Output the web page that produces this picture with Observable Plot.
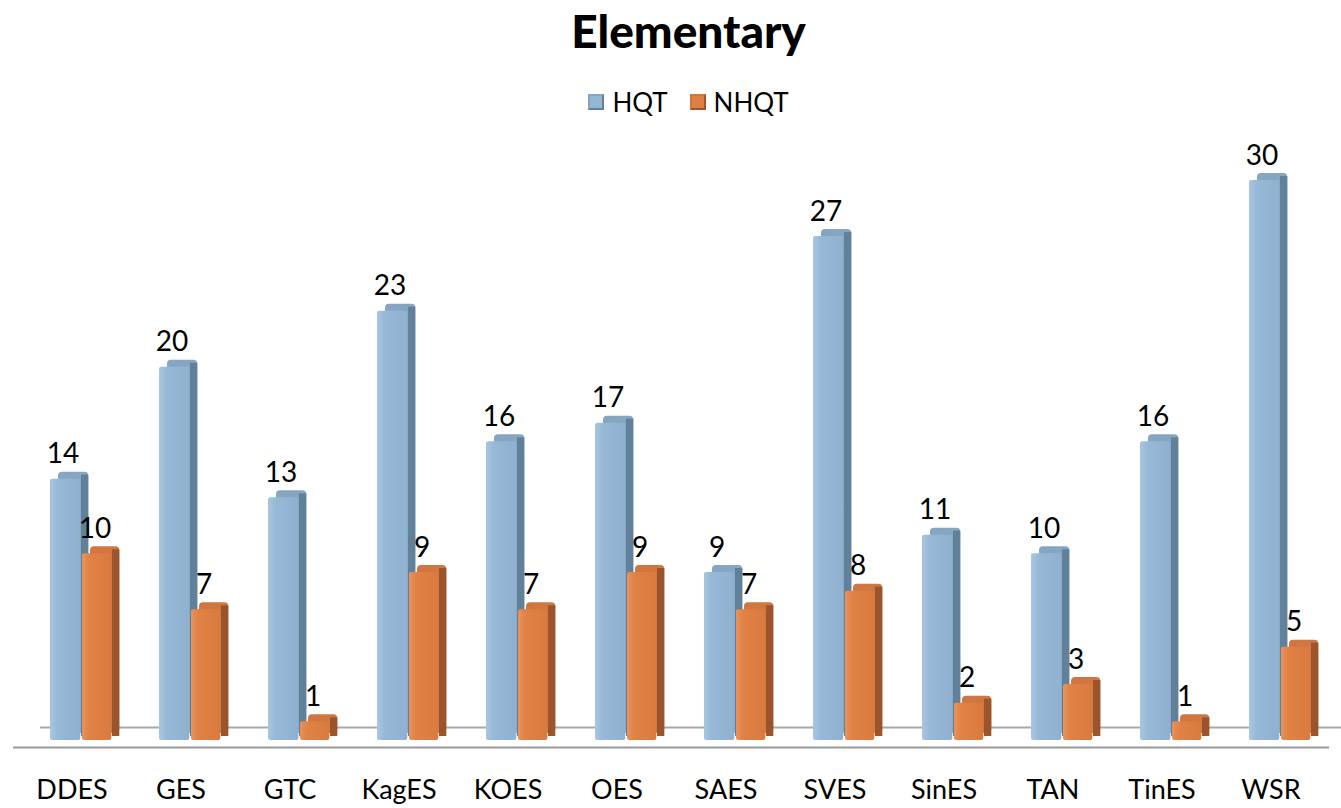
<!DOCTYPE html>
<html><head><meta charset="utf-8">
<script src="https://cdn.jsdelivr.net/npm/d3@7"></script>
<script src="https://cdn.jsdelivr.net/npm/@observablehq/plot@0.6"></script>
<style>
body{margin:0;background:#fff;font-family:Lato,"Open Sans",sans-serif;width:1341px;overflow:hidden}
#title{height:62px;line-height:62px;text-align:center;font-weight:900;font-size:46px;padding-left:36px;color:#000}
#legend{height:40px;margin-top:20px;display:flex;justify-content:center;align-items:center;gap:22px;padding-left:36px;font-size:26px;color:#000}
.item{display:flex;align-items:center;gap:8px}
.sw{width:16px;height:16px;box-sizing:border-box}
#chart svg{display:block}
</style></head><body>
<svg width="0" height="0" style="position:absolute">
<defs>
<linearGradient id="gBlue" x1="0" x2="1" y1="0" y2="0">
<stop offset="0" stop-color="#a9c6e0"/><stop offset="0.25" stop-color="#97b9d7"/><stop offset="1" stop-color="#8fb1cf"/>
</linearGradient>
<linearGradient id="gOrange" x1="0" x2="1" y1="0" y2="0">
<stop offset="0" stop-color="#e8935b"/><stop offset="0.25" stop-color="#e08145"/><stop offset="1" stop-color="#d97a3f"/>
</linearGradient>
<linearGradient id="gFloor" x1="0" x2="0" y1="0" y2="1">
<stop offset="0" stop-color="#e6e6e6"/><stop offset="0.5" stop-color="#fafafa"/><stop offset="1" stop-color="#ffffff"/>
</linearGradient>
</defs></svg>
<div id="title">Elementary</div>
<div id="legend"></div>
<div id="chart"></div>
<script>
const categories = ["DDES","GES","GTC","KagES","KOES","OES","SAES","SVES","SinES","TAN","TinES","WSR"];
const hqt  = [14,20,13,23,16,17,9,27,11,10,16,30];
const nhqt = [10,7,1,9,7,9,7,8,2,3,1,5];
const seriesNames = ["HQT","NHQT"];

const data = categories.flatMap((c,i)=>[
  {cat:c, series:"HQT", value:hqt[i]},
  {cat:c, series:"NHQT", value:nhqt[i]}
]);

const styles = {
  HQT:  {front:"url(#gBlue)", swatch:"#94b6d2", side:"#61809a", top:"#86a5c1", inL:33, inR:45.7, sideL:64, sideR:37.7, labDx:-9},
  NHQT: {front:"url(#gOrange)", swatch:"#dd8047", side:"#9b552c", top:"#d07642", inL:65, inR:14.7, sideL:95, sideR:6.7, labDx:23}
};

// legend
const leg = document.getElementById("legend");
seriesNames.forEach(s=>{
  const it = document.createElement("div"); it.className="item";
  const sw = document.createElement("div"); sw.className="sw";
  sw.style.background = styles[s].swatch;
  sw.style.border = "2px solid " + styles[s].side;
  sw.style.borderLeftColor = styles[s].top;
  sw.style.borderTopColor = styles[s].top;
  const tx = document.createElement("span"); tx.textContent = s;
  it.appendChild(sw); it.appendChild(tx); leg.appendChild(it);
});

const marks = [
  // floor
  Plot.ruleY([0], {dy:-4, dx:13, strokeWidth:19, stroke:"url(#gFloor)"}),
  Plot.ruleY([0], {dy:7, stroke:"#9a9a9a", strokeWidth:2}),
  Plot.ruleY([0], {dy:-13, dx:27, stroke:"#a8a8a8", strokeWidth:2}),
];
for (const s of seriesNames) {
  const st = styles[s];
  const d = data.filter(r=>r.series===s);
  marks.push(
    Plot.barY(d, {x:"cat", y:"value", insetLeft:st.inL, insetRight:st.inR, dx:8, dy:-7, fill:st.top, rx:4}),
    Plot.barY(d, {x:"cat", y:"value", insetLeft:st.sideL, insetRight:st.sideR, dy:-4, fill:st.side}),
    Plot.barY(d, {x:"cat", y:"value", insetLeft:st.inL, insetRight:st.inR, fill:st.front, rx:2}),
    Plot.text(d, {x:"cat", y:"value", text:d=>String(d.value), dx:st.labDx, dy:-16, lineAnchor:"bottom", fontSize:28, fill:"#000"})
  );
}
marks.push(Plot.axisX({tickSize:0, tickPadding:39, fontSize:27, fill:"#000", label:null}));

const chart = Plot.plot({
  width:1341, height:686,
  marginLeft:13, marginRight:12, marginTop:58, marginBottom:68,
  style:{fontFamily:"Lato, 'Open Sans', sans-serif", background:"transparent", overflow:"visible"},
  x:{domain:categories, padding:0, axis:null},
  y:{domain:[0,30], axis:null},
  marks
});
document.getElementById("chart").appendChild(chart);
</script>
</body></html>
